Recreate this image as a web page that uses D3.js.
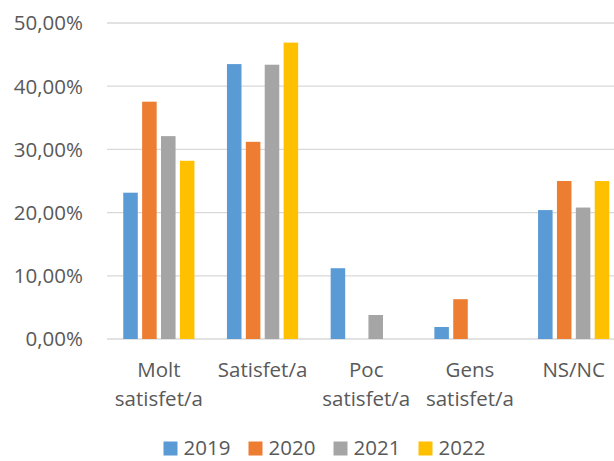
<!DOCTYPE html>
<html><head><meta charset="utf-8">
<script src="https://cdn.jsdelivr.net/npm/d3@7"></script>
<style>body{margin:0;background:#fff}svg{display:block}</style>
</head><body>
<script>
const categories = [["Molt","satisfet/a"],["Satisfet/a"],["Poc","satisfet/a"],["Gens","satisfet/a"],["NS/NC"]];
const seriesNames = ["2019","2020","2021","2022"];
const colors = ["#5B9BD5","#ED7D31","#A5A5A5","#FFC000"];
const v2019 = [0.2315,0.435,0.112,0.019,0.204];
const v2020 = [0.3755,0.312,0,0.063,0.250];
const v2021 = [0.321,0.434,0.038,0,0.208];
const v2022 = [0.282,0.469,0,0,0.250];
const yTicks = [0,0.1,0.2,0.3,0.4,0.5];
const values = [v2019,v2020,v2021,v2022];

const W=614,H=461;
const svg=d3.select("body").append("svg").attr("width",W).attr("height",H);
const font="'Open Sans', sans-serif";
const fs=20.5;
const y=d3.scaleLinear().domain([0,0.5]).range([339,23]);
const x0=d3.scaleBand().domain(d3.range(categories.length)).range([107,625.5]).paddingInner(0).paddingOuter(0);
const outer=16.25;
const x1=d3.scaleBand().domain(d3.range(seriesNames.length)).range([outer,x0.bandwidth()-outer]).paddingInner(0.23).paddingOuter(0);

// gridlines
svg.append("g").selectAll("line").data(yTicks).join("line")
 .attr("x1",107).attr("x2",W).attr("y1",d=>y(d)).attr("y2",d=>y(d))
 .attr("stroke","#d9d9d9").attr("stroke-width",1.3);

// y axis labels
const fmt=d=>d3.format(".2f")(d*100).replace(".",",")+"%";
svg.append("g").selectAll("text").data(yTicks).join("text")
 .attr("x",83).attr("y",d=>y(d)).attr("dy","0.36em").attr("text-anchor","end")
 .attr("font-family",font).attr("font-size",fs).attr("fill","#595959").text(fmt);

// bars
const g=svg.append("g");
categories.forEach((c,i)=>{
  values.forEach((s,j)=>{
    if(s[i]<=0) return;
    g.append("rect").attr("x",x0(i)+x1(j)).attr("width",x1.bandwidth())
     .attr("y",y(s[i])).attr("height",y(0)-y(s[i])).attr("fill",colors[j]);
  });
});

// x labels
const xl=svg.append("g");
categories.forEach((c,i)=>{
  const t=xl.append("text").attr("text-anchor","middle").attr("font-family",font)
   .attr("font-size",fs).attr("fill","#595959");
  c.forEach((line,k)=>{
    t.append("tspan").attr("x",x0(i)+x0.bandwidth()/2).attr("y",377+k*29).text(line);
  });
});

// legend
const lg=svg.append("g");
seriesNames.forEach((n,j)=>{
  const lx=163.5+j*85;
  lg.append("rect").attr("x",lx).attr("y",441.5).attr("width",14).attr("height",14).attr("fill",colors[j]);
  lg.append("text").attr("x",lx+20).attr("y",455).attr("font-family",font).attr("font-size",fs)
   .attr("fill","#595959").text(n);
});
</script>
</body></html>
